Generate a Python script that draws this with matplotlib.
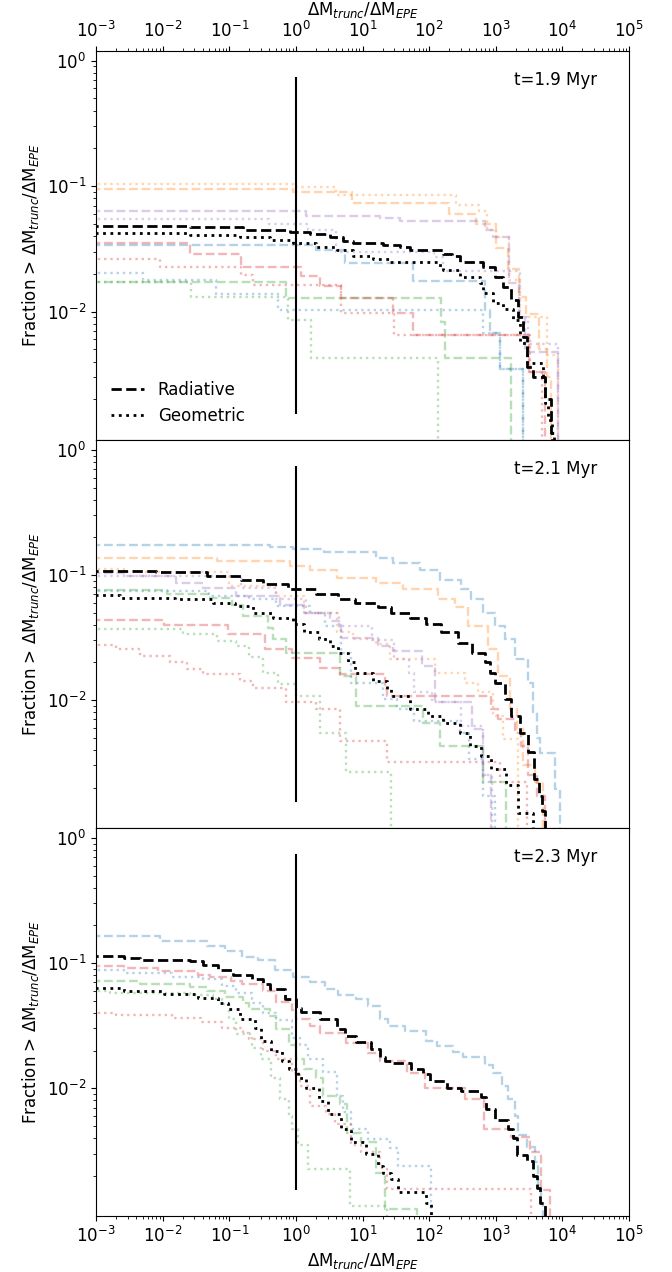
import matplotlib.pyplot as plt
import numpy as np

plt.rcParams['font.size'] = 12

times = ['t=1.9 Myr', 't=2.1 Myr', 't=2.3 Myr']
x_label = r'$\Delta$M$_{trunc}$/$\Delta$M$_{EPE}$'
y_label = 'Fraction > ' + x_label
colours = {'all': 'k', 'b': 'tab:blue', 'o': 'tab:orange', 'g': 'tab:green',
           'r': 'tab:red', 'p': 'tab:purple'}

# cumulative curves: (dM_trunc/dM_EPE where the fraction steps down, fraction after the step)
# first pair is the starting level, last pair is where the curve drops out
# --- t = 1.9 Myr
p1_rad_all = [(1e-4, 0.0482), (0.026, 0.047), (0.16, 0.0448), (0.81, 0.0434), (1.62, 0.0416),
              (3.2, 0.0396), (5.1, 0.0368), (7.2, 0.0351), (20, 0.034), (36, 0.033), (51, 0.031),
              (162, 0.029), (217, 0.0275), (289, 0.025), (650, 0.0228), (960, 0.019),
              (1280, 0.0158), (1720, 0.0124), (2180, 0.0091), (2530, 0.0063), (2920, 0.0036),
              (3560, 0.003), (5470, 0.002), (6640, 0.00107), (7400, 1e-5)]
p1_geo_all = [(1e-4, 0.0427), (0.026, 0.0408), (0.144, 0.039), (0.41, 0.0373), (0.91, 0.0351),
              (2.0, 0.033), (4.1, 0.031), (7.2, 0.0275), (14.4, 0.0261), (26, 0.0247),
              (145, 0.0228), (162, 0.0215), (290, 0.019), (575, 0.0168), (650, 0.014),
              (910, 0.0117), (1290, 0.0105), (1820, 0.0086), (2290, 0.0056), (2890, 0.0039),
              (5130, 0.00286), (5430, 0.00187), (6100, 0.00137), (7000, 1e-5)]
p1_rad_b = [(1e-4, 0.034), (2.0, 0.031), (5.4, 0.0243), (58, 0.0174), (680, 0.0103),
            (810, 0.0067), (1150, 0.0035), (2570, 1e-5)]
p1_geo_b = [(1e-4, 0.0205), (0.005, 0.0178), (0.063, 0.0139), (0.54, 0.0103), (650, 0.0067),
            (1150, 0.0035), (2570, 1e-5)]
p1_rad_o = [(1e-4, 0.094), (0.9, 0.089), (7, 0.074), (200, 0.06), (500, 0.05), (1000, 0.032),
            (1500, 0.022), (2200, 0.013), (2800, 0.0095), (4500, 0.005), (5800, 0.003),
            (6800, 1e-5)]
p1_geo_o = [(1e-4, 0.104), (0.9, 0.099), (4, 0.085), (250, 0.071), (550, 0.063), (750, 0.045),
            (1000, 0.039), (1600, 0.018), (2300, 0.009), (5800, 0.0045), (8500, 1e-5)]
p1_rad_g = [(1e-4, 0.0171), (0.72, 0.0128), (153, 0.0083), (175, 0.0043), (1700, 1e-5)]
p1_geo_g = [(1e-4, 0.0171), (0.027, 0.0132), (0.75, 0.0086), (1.7, 0.0043), (135, 1e-5)]
p1_rad_r = [(1e-4, 0.0355), (0.026, 0.029), (0.15, 0.0226), (1.2, 0.0192), (2.3, 0.016),
            (4.8, 0.0128), (29, 0.0097), (58, 0.0065), (3200, 0.0033), (5400, 1e-5)]
p1_geo_r = [(1e-4, 0.0261), (0.009, 0.0228), (0.15, 0.0196), (0.23, 0.0163), (4.8, 0.0097),
            (30, 0.0065), (3300, 0.0033), (5000, 1e-5)]
p1_rad_p = [(1e-4, 0.063), (1.4, 0.058), (18, 0.056), (36, 0.053), (700, 0.045), (900, 0.039),
            (1600, 0.017), (2200, 0.009), (2700, 0.0048), (8500, 1e-5)]
p1_geo_p = [(1e-4, 0.0545), (0.4, 0.050), (1.5, 0.045), (4, 0.03), (120, 0.027), (160, 0.021),
            (2300, 0.009), (3000, 0.0055), (8500, 1e-5)]

# --- t = 2.1 Myr
p2_rad_all = [(1e-4, 0.107), (0.008, 0.105), (0.046, 0.098), (0.15, 0.092), (0.32, 0.084),
              (0.77, 0.0766), (2.0, 0.07), (4.3, 0.0638), (7.7, 0.06), (17, 0.055), (27, 0.05),
              (51, 0.0457), (91, 0.0403), (153, 0.0347), (272, 0.0288), (432, 0.024),
              (684, 0.02), (812, 0.0166), (965, 0.0138), (1365, 0.0102), (1720, 0.0075),
              (2290, 0.0055), (3060, 0.00385), (3720, 0.00235), (4460, 0.0017), (5020, 0.0013),
              (5430, 1e-5)]
p2_geo_all = [(1e-4, 0.0687), (0.0023, 0.066), (0.0153, 0.0638), (0.057, 0.06), (0.12, 0.0564),
              (0.23, 0.05), (0.46, 0.0457), (0.91, 0.0403), (1.3, 0.0347), (2.2, 0.0306),
              (3.2, 0.0271), (4.3, 0.024), (6.1, 0.02), (7.7, 0.0166), (14.4, 0.0143),
              (23, 0.0122), (27, 0.0108), (51, 0.0085), (97, 0.0075), (162, 0.0066),
              (290, 0.0055), (408, 0.0043), (610, 0.0036), (860, 0.0028), (1440, 0.0021),
              (2160, 0.00124), (3650, 1e-5)]
p2_rad_b = [(1e-4, 0.175), (0.41, 0.168), (0.91, 0.16), (2.6, 0.152), (16, 0.137), (29, 0.125),
            (72, 0.11), (145, 0.092), (305, 0.0766), (430, 0.064), (650, 0.05), (970, 0.039),
            (1360, 0.031), (1930, 0.0212), (3050, 0.0138), (3650, 0.008), (4100, 0.005),
            (4600, 0.0038), (7700, 0.00196), (9100, 1e-5)]
p2_geo_b = [(1e-4, 0.0747), (0.05, 0.068), (0.2, 0.064), (0.5, 0.0564), (1.6, 0.05),
            (2.7, 0.039), (4.8, 0.024), (6.7, 0.0138), (20, 0.0102), (33, 0.0085), (60, 0.0068),
            (290, 0.0055), (400, 0.0034), (640, 0.0017), (965, 1e-5)]
p2_rad_o = [(1e-4, 0.137), (0.065, 0.13), (0.81, 0.117), (1.6, 0.11), (4.1, 0.095),
            (16, 0.0867), (41, 0.0766), (135, 0.0638), (243, 0.055), (385, 0.039),
            (770, 0.0255), (1090, 0.0157), (1620, 0.0085), (2050, 0.0059), (2570, 0.003),
            (3850, 0.0022), (5150, 1e-5)]
p2_geo_o = [(1e-4, 0.112), (0.0026, 0.105), (0.10, 0.0816), (0.51, 0.068), (1.3, 0.05),
            (4.1, 0.0347), (7.2, 0.0306), (16, 0.028), (26, 0.0212), (122, 0.0166),
            (343, 0.0138), (543, 0.0115), (915, 0.0075), (1290, 0.0049), (2160, 1e-5)]
p2_rad_g = [(1e-4, 0.0757), (0.0115, 0.07), (0.051, 0.066), (0.108, 0.058), (0.16, 0.047),
            (0.385, 0.038), (0.45, 0.031), (0.72, 0.024), (4.6, 0.0156), (8.1, 0.009),
            (81, 0.0066), (145, 0.0043), (650, 0.0022), (1440, 1e-5)]
p2_geo_g = [(1e-4, 0.0372), (0.02, 0.034), (0.065, 0.0297), (0.128, 0.027), (0.2, 0.022),
            (0.32, 0.0166), (0.54, 0.0134), (1.02, 0.0108), (2.3, 0.0055), (5.7, 0.00265),
            (27, 1e-5)]
p2_rad_r = [(1e-4, 0.0434), (0.0103, 0.0396), (0.097, 0.0336), (0.34, 0.0255), (0.86, 0.0215),
            (2.3, 0.0179), (4.6, 0.0161), (21.6, 0.0122), (23, 0.0108), (860, 0.0085),
            (1085, 0.0071), (1930, 0.0055), (2430, 0.0043), (3060, 0.0025), (4100, 0.0017),
            (5430, 1e-5)]
p2_geo_r = [(1e-4, 0.0274), (0.002, 0.0255), (0.0046, 0.0226), (0.013, 0.02), (0.023, 0.0177),
            (0.041, 0.0161), (0.144, 0.0143), (0.23, 0.0126), (0.72, 0.0096), (2.0, 0.0085),
            (4.6, 0.0047), (23, 0.0032), (1150, 0.0022), (2900, 1e-5)]
p2_rad_p = [(1e-4, 0.104), (0.0026, 0.098), (0.016, 0.0867), (0.041, 0.079), (0.128, 0.068),
            (0.58, 0.058), (1.3, 0.05), (3.2, 0.043), (4.8, 0.0315), (17, 0.0271),
            (29, 0.0247), (77, 0.0188), (122, 0.0096), (432, 0.0059), (650, 0.0025),
            (860, 1e-5)]
p2_geo_p = [(1e-4, 0.098), (0.15, 0.079), (0.5, 0.064), (1.4, 0.05), (4.5, 0.039), (14, 0.03),
            (30, 0.0212), (50, 0.0166), (60, 0.0115), (110, 0.0096), (300, 0.0062),
            (650, 0.0025), (880, 1e-5)]

# --- t = 2.3 Myr
p3_rad_all = [(1e-4, 0.113), (0.0026, 0.11), (0.0046, 0.1066), (0.0153, 0.105), (0.026, 0.104),
              (0.041, 0.097), (0.068, 0.0887), (0.114, 0.081), (0.216, 0.0739), (0.32, 0.068),
              (0.41, 0.0615), (0.68, 0.0512), (1.0, 0.044), (1.2, 0.041), (2.3, 0.0355),
              (4.1, 0.0295), (5.4, 0.0261), (8.1, 0.0235), (13.6, 0.0205), (18, 0.0176),
              (21.6, 0.0165), (29, 0.016), (54, 0.0142), (81, 0.013), (102, 0.0114),
              (182, 0.0101), (305, 0.0095), (610, 0.0085), (725, 0.0068), (965, 0.0056),
              (1530, 0.0047), (1820, 0.004), (2050, 0.0029), (2890, 0.0026), (3650, 0.002),
              (4100, 0.0016), (4600, 0.0012), (5430, 1e-5)]
p3_geo_all = [(1e-4, 0.0634), (0.0026, 0.0596), (0.0103, 0.057), (0.034, 0.0528), (0.068, 0.048),
              (0.097, 0.0426), (0.144, 0.0355), (0.243, 0.03), (0.3, 0.024), (0.43, 0.02),
              (0.61, 0.0165), (0.78, 0.0142), (1.07, 0.012), (1.44, 0.01), (2.2, 0.0079),
              (3.0, 0.0062), (4.8, 0.0047), (6.8, 0.0037), (11.4, 0.003), (17, 0.0024),
              (20, 0.0021), (27, 0.00188), (34, 0.00147), (91, 0.0012), (108, 1e-5)]
p3_rad_b = [(1e-4, 0.166), (0.0091, 0.149), (0.046, 0.137), (0.086, 0.124), (0.153, 0.112),
            (0.27, 0.105), (0.48, 0.0887), (0.91, 0.078), (1.6, 0.07), (2.7, 0.0615),
            (4.3, 0.056), (8.1, 0.0512), (12, 0.045), (18, 0.0355), (24, 0.0314), (43, 0.0286),
            (91, 0.024), (129, 0.0217), (229, 0.0195), (324, 0.0176), (684, 0.0153),
            (915, 0.0133), (1220, 0.0105), (1530, 0.0082), (1930, 0.006), (2160, 0.0042),
            (2890, 0.0034), (3850, 0.00256), (4310, 0.00167), (4840, 0.0012), (5150, 1e-5)]
p3_geo_b = [(1e-4, 0.0887), (0.0026, 0.083), (0.0136, 0.078), (0.041, 0.0739), (0.077, 0.0653),
            (0.128, 0.058), (0.216, 0.048), (0.32, 0.04), (0.51, 0.035), (0.86, 0.0254),
            (1.15, 0.022), (1.5, 0.017), (2.55, 0.0135), (4.1, 0.0087), (5.1, 0.0065),
            (6.8, 0.0047), (12, 0.0039), (26, 0.0033), (34, 0.0024), (108, 1e-5)]
p3_rad_g = [(1e-4, 0.0716), (0.0046, 0.0674), (0.026, 0.064), (0.046, 0.0596), (0.086, 0.054),
            (0.16, 0.048), (0.2, 0.0426), (0.41, 0.038), (0.51, 0.0295), (0.78, 0.022),
            (1.0, 0.017), (1.3, 0.0142), (2.0, 0.012), (2.55, 0.0087), (4.6, 0.0075),
            (5.8, 0.0044), (9.6, 0.0037), (16, 0.0021), (22, 0.00109), (65, 1e-5)]
p3_geo_g = [(1e-4, 0.0596), (0.0016, 0.058), (0.026, 0.0555), (0.057, 0.0512), (0.077, 0.047),
            (0.1, 0.0355), (0.128, 0.027), (0.216, 0.021), (0.3, 0.017), (0.43, 0.012),
            (0.58, 0.0082), (0.78, 0.006), (0.86, 0.0047), (1.07, 0.0035), (1.5, 0.00226),
            (6.4, 0.00115), (23, 1e-5)]
p3_rad_r = [(1e-4, 0.094), (0.0026, 0.091), (0.0086, 0.086), (0.034, 0.08), (0.051, 0.077),
            (0.105, 0.072), (0.153, 0.068), (0.32, 0.06), (0.51, 0.049), (0.86, 0.042),
            (1.0, 0.036), (1.6, 0.0314), (2.3, 0.0275), (5.7, 0.0231), (12, 0.0192),
            (18, 0.0165), (46, 0.0133), (86, 0.0101), (343, 0.0082), (660, 0.0047),
            (1720, 0.0041), (3240, 0.0031), (4840, 0.00152), (6460, 1e-5)]
p3_geo_r = [(1e-4, 0.04), (0.002, 0.0385), (0.0136, 0.0366), (0.038, 0.034), (0.077, 0.0305),
            (0.16, 0.0275), (0.2, 0.0246), (0.32, 0.02), (0.51, 0.017), (0.86, 0.0133),
            (1.15, 0.0105), (1.6, 0.0072), (2.8, 0.0062), (3.8, 0.0052), (6.8, 0.0035),
            (9.6, 0.0031), (18, 0.0023), (23, 0.00157), (3430, 1e-5)]

panels = [
    [('b', p1_rad_b, p1_geo_b), ('o', p1_rad_o, p1_geo_o), ('g', p1_rad_g, p1_geo_g),
     ('r', p1_rad_r, p1_geo_r), ('p', p1_rad_p, p1_geo_p), ('all', p1_rad_all, p1_geo_all)],
    [('b', p2_rad_b, p2_geo_b), ('o', p2_rad_o, p2_geo_o), ('g', p2_rad_g, p2_geo_g),
     ('r', p2_rad_r, p2_geo_r), ('p', p2_rad_p, p2_geo_p), ('all', p2_rad_all, p2_geo_all)],
    [('b', p3_rad_b, p3_geo_b), ('g', p3_rad_g, p3_geo_g), ('r', p3_rad_r, p3_geo_r),
     ('all', p3_rad_all, p3_geo_all)],
]


def draw(ax, curve, colour, style, black):
    x, y = zip(*curve)
    if black:
        ax.step(x, y, where='post', color=colour, ls=style, lw=2.0)
    else:
        ax.step(x, y, where='post', color=colour, ls=style, lw=1.7, alpha=0.33)


fig = plt.figure(figsize=(6.72, 12.72), dpi=100)
rects = [[0.1429, 0.6541, 0.7932, 0.3061],
         [0.1429, 0.3491, 0.7932, 0.3050],
         [0.1429, 0.0440, 0.7932, 0.3050]]
axes = []
for i, rect in enumerate(rects):
    ax = fig.add_axes(rect)
    axes.append(ax)
    for key, rad, geo in panels[i]:
        black = key == 'all'
        draw(ax, rad, colours[key], '--', black)
        draw(ax, geo, colours[key], ':', black)
    ax.axvline(1.0, ymin=0.07, ymax=0.93, color='k', lw=1.5)
    ax.set_xscale('log')
    ax.set_yscale('log')
    ax.set_xlim(1e-3, 1e5)
    ax.set_ylim(9.5e-4, 1.2)
    ax.set_xticks(10.0 ** np.arange(-3, 6))
    ax.set_yticks([1e-2, 1e-1, 1])
    ax.set_ylabel(y_label)
    ax.text(0.94, 0.925, times[i], transform=ax.transAxes, ha='right', va='center')

axes[0].xaxis.tick_top()
axes[0].xaxis.set_label_position('top')
axes[0].set_xlabel(x_label)
axes[1].tick_params(axis='x', labelbottom=False)
axes[2].set_xlabel(x_label)

axes[0].plot([], [], 'k--', lw=2.0, label='Radiative')
axes[0].plot([], [], 'k:', lw=2.0, label='Geometric')
axes[0].legend(loc='lower left', frameon=False)

fig.savefig('out.png', dpi=100)
